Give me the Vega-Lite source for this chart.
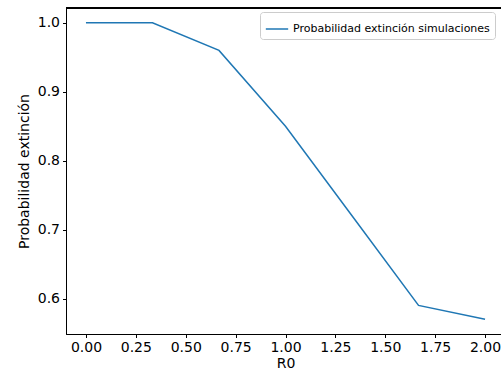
{
  "$schema": "https://vega.github.io/schema/vega-lite/v6.json",
  "autosize": {"type": "none"},
  "padding": {"left": 66, "top": 8, "right": 0, "bottom": 39},
  "width": 439,
  "height": 326,
  "background": "white",
  "config": {
    "view": {"stroke": "black", "strokeWidth": 1},
    "font": "DejaVu Sans",
    "axis": {
      "grid": false,
      "domain": true,
      "domainColor": "black",
      "tickColor": "black",
      "tickSize": 3.5,
      "labelFontSize": 14,
      "labelColor": "black",
      "titleFontSize": 14,
      "titleFontWeight": "normal",
      "titleColor": "black",
      "labelPadding": 3
    }
  },
  "data": {
    "values": [
      {"R0": 0.0, "p": 1.0, "serie": "Probabilidad extinción simulaciones"},
      {"R0": 0.3333, "p": 1.0, "serie": "Probabilidad extinción simulaciones"},
      {"R0": 0.6667, "p": 0.96, "serie": "Probabilidad extinción simulaciones"},
      {"R0": 1.0, "p": 0.85, "serie": "Probabilidad extinción simulaciones"},
      {"R0": 1.3333, "p": 0.72, "serie": "Probabilidad extinción simulaciones"},
      {"R0": 1.6667, "p": 0.59, "serie": "Probabilidad extinción simulaciones"},
      {"R0": 2.0, "p": 0.57, "serie": "Probabilidad extinción simulaciones"}
    ]
  },
  "layer": [
    {
      "mark": {"type": "rule", "color": "black", "strokeWidth": 1.2},
      "encoding": {
        "y": {"datum": 1.0213, "type": "quantitative"}
      }
    },
    {
      "mark": {"type": "line", "strokeWidth": 1.5, "clip": true},
      "encoding": {
        "x": {
          "field": "R0", "type": "quantitative", "title": "R0",
          "scale": {"domain": [-0.1, 2.1], "nice": false, "zero": false},
          "axis": {"values": [0, 0.25, 0.5, 0.75, 1.0, 1.25, 1.5, 1.75, 2.0], "format": ".2f", "titlePadding": 2}
        },
        "y": {
          "field": "p", "type": "quantitative", "title": "Probabilidad extinción",
          "scale": {"domain": [0.5485, 1.0215], "nice": false, "zero": false},
          "axis": {"values": [0.6, 0.7, 0.8, 0.9, 1.0], "format": ".1f", "titlePadding": 6}
        },
        "color": {
          "field": "serie", "type": "nominal",
          "scale": {"range": ["#1f77b4"]},
          "legend": {
            "title": null,
            "orient": "none",
            "legendX": 194,
            "legendY": 4,
            "symbolType": "stroke",
            "symbolStrokeWidth": 1.5,
            "symbolSize": 500,
            "labelFontSize": 11,
            "labelLimit": 400,
            "labelColor": "black",
            "padding": 5,
            "strokeColor": "#cccccc",
            "fillColor": "white",
            "cornerRadius": 3
          }
        }
      }
    }
  ]
}
